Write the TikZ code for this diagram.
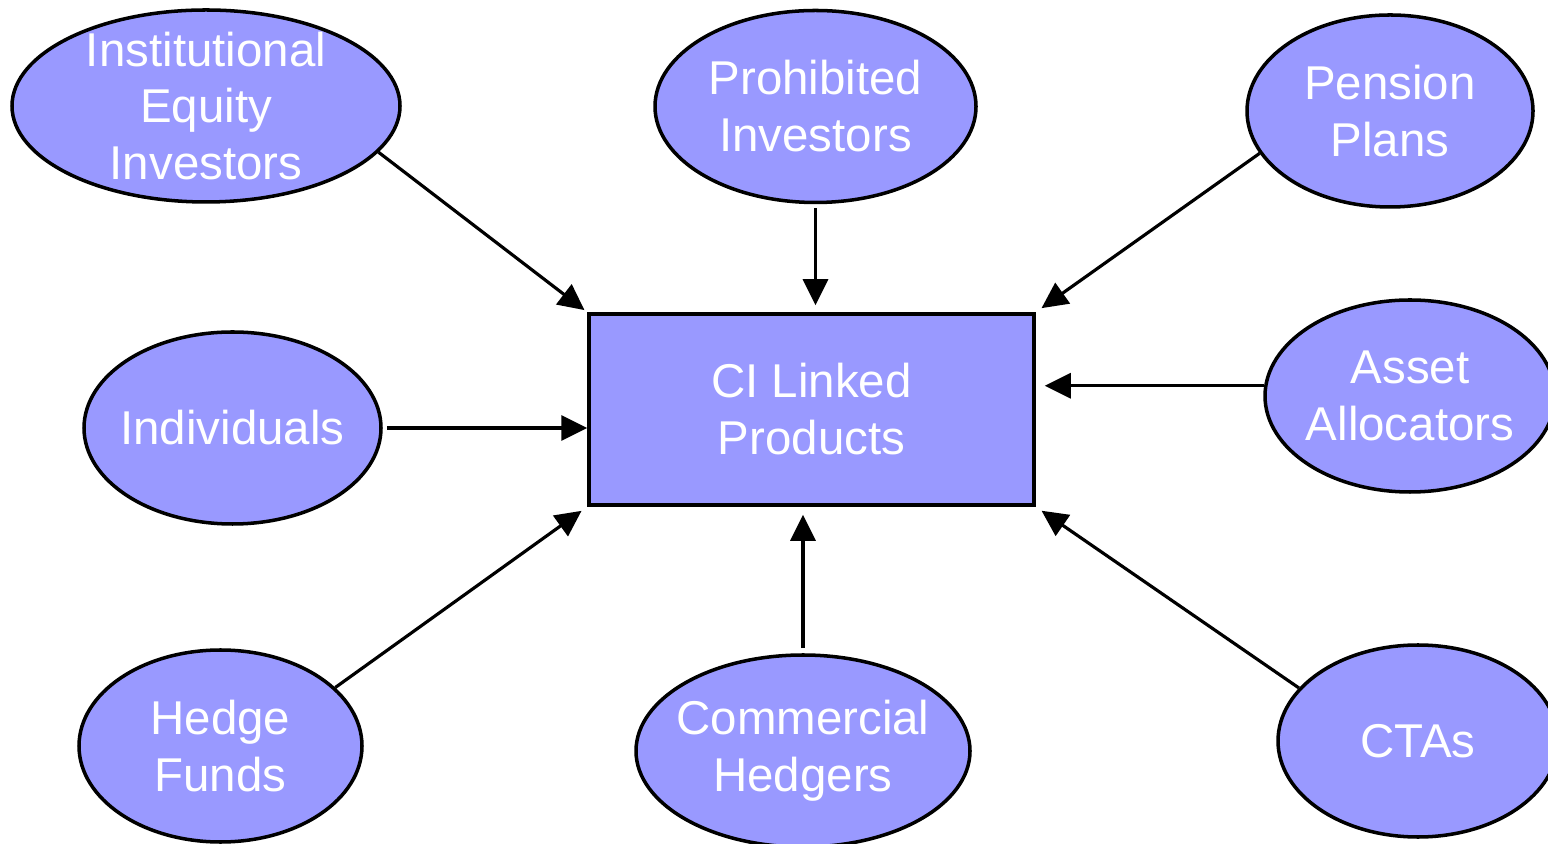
\documentclass[tikz,border=0pt]{standalone}
\usepackage{fontspec}
\setmainfont{Liberation Sans}
\usetikzlibrary{shapes.geometric,arrows.meta}
\definecolor{lavender}{HTML}{9999FF}
\tikzset{
	investor/.style={ellipse, draw, line width=1pt, fill=lavender, text=white, align=center, inner sep=-1cm, minimum height=1.92cm, font=\fontsize{13.5}{16.2}\selectfont},
	product/.style={rectangle, draw, line width=1pt, fill=lavender, text=white, align=center, minimum width=4.45cm, minimum height=1.91cm, font=\fontsize{13.5}{16.2}\selectfont},
	feed/.style={-{Triangle[length=0.26cm,width=0.25cm]}, line width=0.9pt},
}
\begin{document}
\begin{tikzpicture}
	\useasboundingbox (0,0) rectangle (15.48,-8.44);
	% product in the middle
	\node[product] (box) at (8.115,-4.095) {CI Linked\\Products};
	
	% investors round it
	\node[investor, minimum width=3.88cm] (inst) at (2.06,-1.06) {Institutional\\Equity\\Investors};
	\node[investor, minimum width=3.21cm] (prohib) at (8.155,-1.065) {Prohibited\\Investors};
	\node[investor, minimum width=2.86cm] (pension) at (13.90,-1.11) {Pension\\Plans};
	\node[investor, minimum width=2.97cm] (indiv) at (2.325,-4.28) {Individuals};
	\node[investor, minimum width=2.90cm] (asset) at (14.10,-3.96) {Asset\\Allocators};
	\node[investor, minimum width=2.83cm] (hedge) at (2.205,-7.46) {Hedge\\Funds};
	\node[investor, minimum width=3.34cm] (commerc) at (8.03,-7.51) {Commercial\\Hedgers};
	\node[investor, minimum width=2.80cm] (ctas) at (14.18,-7.41) {CTAs};
	
	% arrows into the product
	\draw[feed, shorten >=1pt] (inst.-15) -- (box.north west);
	\draw[feed, shorten <=0.04cm, shorten >=0.07cm] (prohib.south) -- (prohib.south |- box.north);
	\draw[feed, shorten >=2pt] (pension.-162) -- (box.north east);
	\draw[feed, shorten <=0.04cm] (indiv.east) -- (indiv.east -| box.west);
	\draw[feed, shorten >=0.09cm] (asset.176) -- (asset.176 -| box.east);
	\draw[feed, shorten >=0.07cm] (hedge.27) -- (box.south west);
	\draw[feed, shorten <=0.05cm, shorten >=0.08cm] (commerc.north) -- (commerc.north |- box.south);
	\draw[feed, shorten >=0.07cm] (ctas.156) -- (box.south east);
\end{tikzpicture}
\end{document}
